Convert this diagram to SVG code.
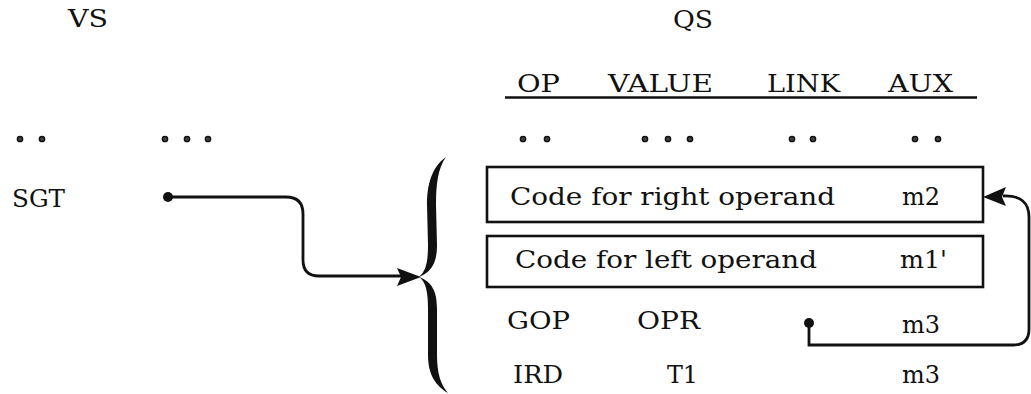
<svg xmlns="http://www.w3.org/2000/svg" width="1031" height="394" viewBox="0 0 1031 394">
<style>
  text { font-family: "DejaVu Serif", "Liberation Serif", serif; font-size: 25px; fill: #111; }
  .box { fill: #fff; stroke: #111; stroke-width: 2.6; }
  .conn { fill: none; stroke: #111; stroke-width: 2.8; }
  .dot { fill: #444; stroke: #111; stroke-width: 1.5; }
  .head { fill: #111; }
</style>
<rect width="1031" height="394" fill="#fff"/>

<g id="vs-title"><text x="68" y="27" textLength="40" lengthAdjust="spacingAndGlyphs">VS</text></g>
<g id="qs-title"><text x="673" y="28" textLength="40" lengthAdjust="spacingAndGlyphs">QS</text></g>

<g id="qs-columns">
  <text x="517" y="92" textLength="43" lengthAdjust="spacingAndGlyphs">OP</text>
  <text x="608" y="92" textLength="105" lengthAdjust="spacingAndGlyphs">VALUE</text>
  <text x="767" y="92" textLength="73" lengthAdjust="spacingAndGlyphs">LINK</text>
  <text x="888" y="92" textLength="65" lengthAdjust="spacingAndGlyphs">AUX</text>
  <line x1="505" y1="97.5" x2="977" y2="97.5" stroke="#111" stroke-width="2.6"/>
</g>

<g id="ellipsis-row">
  <circle class="dot" cx="20" cy="139" r="2.6"/>
  <circle class="dot" cx="42" cy="139" r="2.6"/>
  <circle class="dot" cx="165" cy="139" r="2.6"/>
  <circle class="dot" cx="187" cy="139" r="2.6"/>
  <circle class="dot" cx="208" cy="139" r="2.6"/>
  <circle class="dot" cx="523" cy="139" r="2.6"/>
  <circle class="dot" cx="547" cy="139" r="2.6"/>
  <circle class="dot" cx="645" cy="139" r="2.6"/>
  <circle class="dot" cx="668" cy="139" r="2.6"/>
  <circle class="dot" cx="690" cy="139" r="2.6"/>
  <circle class="dot" cx="792" cy="139" r="2.6"/>
  <circle class="dot" cx="813" cy="139" r="2.6"/>
  <circle class="dot" cx="915" cy="139" r="2.6"/>
  <circle class="dot" cx="938" cy="139" r="2.6"/>
</g>

<g id="sgt"><text x="12" y="207" textLength="53" lengthAdjust="spacingAndGlyphs">SGT</text></g>

<g id="brace">
  <path class="head" d="M446 157 C432 167 427 184 427 205 L428 245 C428 262 426 271 419 277 C432 272 437 262 437 245 L436 205 C436 184 438 168 446 157 Z"/>
  <path class="head" d="M419 277 C426 282 428 292 428 309 L428 355 C428 375 436 386 448 393 C441 385 437 374 437 355 L437 309 C437 291 432 282 419 277 Z"/>
</g>

<g id="right-operand">
  <rect class="box" x="487" y="167" width="496" height="55"/>
  <text x="510" y="205" textLength="325" lengthAdjust="spacingAndGlyphs">Code for right operand</text>
  <text x="902" y="205" textLength="38" lengthAdjust="spacingAndGlyphs">m2</text>
</g>

<g id="left-operand">
  <rect class="box" x="487" y="236" width="496" height="51"/>
  <text x="515" y="268" textLength="302" lengthAdjust="spacingAndGlyphs">Code for left operand</text>
  <text x="900" y="268" textLength="47" lengthAdjust="spacingAndGlyphs">m1'</text>
</g>

<g id="gop-row">
  <text x="507" y="329" textLength="63" lengthAdjust="spacingAndGlyphs">GOP</text>
  <text x="637" y="329" textLength="63" lengthAdjust="spacingAndGlyphs">OPR</text>
  <text x="902" y="333" textLength="38" lengthAdjust="spacingAndGlyphs">m3</text>
</g>

<g id="ird-row">
  <text x="513" y="383" textLength="50" lengthAdjust="spacingAndGlyphs">IRD</text>
  <text x="667" y="383" textLength="31" lengthAdjust="spacingAndGlyphs">T1</text>
  <text x="902" y="383" textLength="38" lengthAdjust="spacingAndGlyphs">m3</text>
</g>

<g id="connectors">
  <circle class="head" cx="168" cy="197" r="5"/>
  <path class="conn" d="M168 197 H286 Q303 197 303 214 V260 Q303 276 319 276 H402"/>
  <path class="head" d="M421 277 L397 268 L401 277 L397 286 Z"/>

  <circle class="head" cx="809" cy="323" r="5"/>
  <path class="conn" d="M809 323 V345 H1013 Q1029 345 1029 329 V217 Q1029 195 1003 196"/>
  <path class="head" d="M983 197 L1006 187 L1002 197 L1006 206 Z"/>
</g>
</svg>
